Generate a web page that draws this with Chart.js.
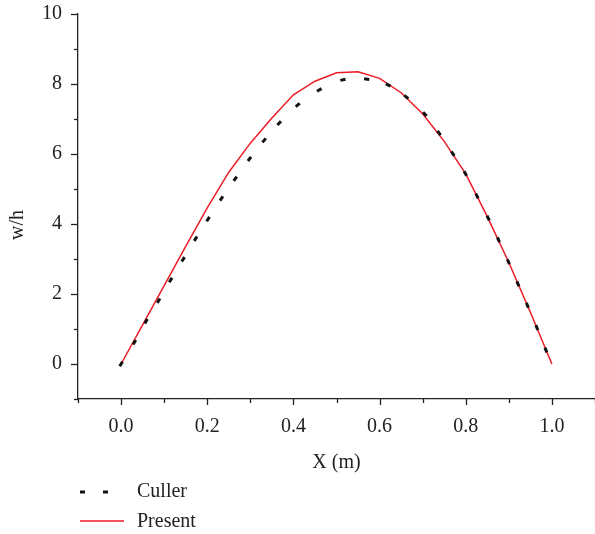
<!DOCTYPE html>
<html>
<head>
<meta charset="utf-8">
<script src="https://cdn.jsdelivr.net/npm/chart.js@4.4.1/dist/chart.umd.min.js"></script>
<style>
  body { margin: 0; background: #fff; }
  #wrap { width: 595px; height: 534px; }
</style>
</head>
<body>
<div id="wrap"><canvas id="deflectionChart" width="595" height="534"></canvas></div>
<script>
// Culler reference (dashes) and present solution (red line)
const cullerX = [0.000, 0.031, 0.058, 0.087, 0.115, 0.144, 0.173, 0.202, 0.233, 0.265,
                 0.298, 0.332, 0.367, 0.410, 0.460, 0.515, 0.570, 0.620, 0.662, 0.705,
                 0.738, 0.770, 0.799, 0.826, 0.852, 0.876, 0.899, 0.921, 0.943, 0.965, 0.986];
const cullerW = [0.00, 0.62, 1.22, 1.81, 2.40, 2.99, 3.58, 4.14, 4.73, 5.29,
                 5.86, 6.39, 6.88, 7.40, 7.83, 8.12, 8.14, 7.97, 7.63, 7.14,
                 6.60, 6.01, 5.44, 4.80, 4.17, 3.55, 2.92, 2.29, 1.68, 1.04, 0.40];

const presentX = [0, 0.05, 0.1, 0.15, 0.2, 0.25, 0.3, 0.35, 0.4, 0.45, 0.5,
                  0.55, 0.6, 0.65, 0.7, 0.75, 0.8, 0.85, 0.9, 0.95, 1.0];
const presentW = [0, 1.12, 2.24, 3.36, 4.46, 5.48, 6.31, 7.03, 7.69, 8.08, 8.32,
                  8.35, 8.16, 7.75, 7.15, 6.36, 5.43, 4.21, 2.90, 1.48, 0];

const xLabel = 'X (m)';
const yLabel = 'w/h';
const seriesNames = ['Culler', 'Present'];

const serif = "'Liberation Serif', 'Times New Roman', serif";
const ink = '#222';
const red = '#ec1c24';
const fontSize = 20;

Chart.defaults.font.family = serif;
Chart.defaults.font.size = fontSize;
Chart.defaults.color = ink;

// orient each dash along the curve
function dashAngle(c) {
    if (c.dataIndex === undefined) return 0;
    const i = c.dataIndex, n = cullerX.length;
    const a = Math.max(i - 1, 0), b = Math.min(i + 1, n - 1);
    const xs = c.chart.scales.x, ys = c.chart.scales.y;
    const dx = xs.getPixelForValue(cullerX[b]) - xs.getPixelForValue(cullerX[a]);
    const dy = ys.getPixelForValue(cullerW[b]) - ys.getPixelForValue(cullerW[a]);
    return Math.atan2(dy, dx) * 180 / Math.PI;
}

// major/minor tick marks, y title and legend
const decorations = {
    id: 'decorations',
    afterDraw(chart) {
        const ctx = chart.ctx;
        const xs = chart.scales.x, ys = chart.scales.y;
        const area = chart.chartArea;
        ctx.save();
        ctx.strokeStyle = ink;
        ctx.lineWidth = 1.3;
        xs.ticks.forEach(t => {
            const k = Math.round(t.value * 10);
            const len = k % 2 === 0 ? 6 : 4;
            const px = Math.round(xs.getPixelForValue(t.value)) + 0.5;
            ctx.beginPath();
            ctx.moveTo(px, area.bottom);
            ctx.lineTo(px, area.bottom + len);
            ctx.stroke();
        });
        ys.ticks.forEach(t => {
            const k = Math.round(t.value);
            const len = k % 2 === 0 ? 7 : 4;
            const py = Math.round(ys.getPixelForValue(t.value)) + 0.5;
            ctx.beginPath();
            ctx.moveTo(area.left, py);
            ctx.lineTo(area.left - len, py);
            ctx.stroke();
        });

        // y axis title
        ctx.fillStyle = ink;
        ctx.font = fontSize + 'px ' + serif;
        ctx.textAlign = 'center';
        ctx.textBaseline = 'middle';
        ctx.save();
        ctx.translate(18, 225);
        ctx.rotate(-Math.PI / 2);
        ctx.fillText(yLabel, 0, 0);
        ctx.restore();

        // legend
        ctx.lineCap = 'butt';
        ctx.strokeStyle = '#111';
        ctx.lineWidth = 3;
        [80, 103].forEach(x0 => {
            ctx.beginPath();
            ctx.moveTo(x0, 492);
            ctx.lineTo(x0 + 5, 492);
            ctx.stroke();
        });
        ctx.strokeStyle = red;
        ctx.lineWidth = 1.5;
        ctx.beginPath();
        ctx.moveTo(80, 521);
        ctx.lineTo(124, 521);
        ctx.stroke();
        ctx.textAlign = 'left';
        ctx.fillText(seriesNames[0], 137, 492);
        ctx.fillText(seriesNames[1], 137, 521.5);
        ctx.restore();
    }
};

function noPad(s) {
    s.paddingLeft = 0;
    s.paddingRight = 0;
    s.paddingTop = 0;
    s.paddingBottom = 0;
}

const ctx = document.getElementById('deflectionChart').getContext('2d');
new Chart(ctx, {
    type: 'line',
    data: {
        datasets: [
            {
                label: seriesNames[0],
                data: cullerX.map((x, i) => ({ x: x, y: cullerW[i] })),
                showLine: false,
                pointStyle: 'line',
                pointRadius: 2.6,
                pointBorderWidth: 3,
                pointBorderColor: '#111',
                pointRotation: dashAngle,
                borderColor: '#111'
            },
            {
                label: seriesNames[1],
                data: presentX.map((x, i) => ({ x: x, y: presentW[i] })),
                borderColor: red,
                borderWidth: 1.5,
                pointRadius: 0,
                tension: 0,
                fill: false
            }
        ]
    },
    options: {
        responsive: false,
        animation: false,
        layout: { autoPadding: false, padding: { left: 0, right: 0, top: 14, bottom: 0 } },
        plugins: {
            legend: { display: false },
            tooltip: { enabled: false }
        },
        scales: {
            x: {
                type: 'linear',
                min: -0.1,
                max: 1.1,
                afterFit: s => { s.height = 135; noPad(s); },
                grid: { display: false, drawTicks: false },
                border: { display: true, color: ink, width: 1.3 },
                ticks: {
                    stepSize: 0.1,
                    padding: 16,
                    maxRotation: 0,
                    autoSkip: false,
                    callback: v => {
                        const k = Math.round(v * 10);
                        return (k % 2 === 0 && k >= 0 && k <= 10) ? (k / 10).toFixed(1) : '';
                    }
                },
                title: { display: true, text: xLabel, padding: { top: 0, bottom: 59 } }
            },
            y: {
                min: -1,
                max: 10,
                afterFit: s => { s.width = 78; noPad(s); },
                grid: { display: false, drawTicks: false },
                border: { display: true, color: ink, width: 1.3 },
                ticks: {
                    stepSize: 1,
                    padding: 16,
                    autoSkip: false,
                    callback: v => {
                        const k = Math.round(v);
                        return (k % 2 === 0 && k >= 0) ? String(k) : '';
                    }
                },
                title: { display: false }
            }
        }
    },
    plugins: [decorations]
});
</script>
</body>
</html>
